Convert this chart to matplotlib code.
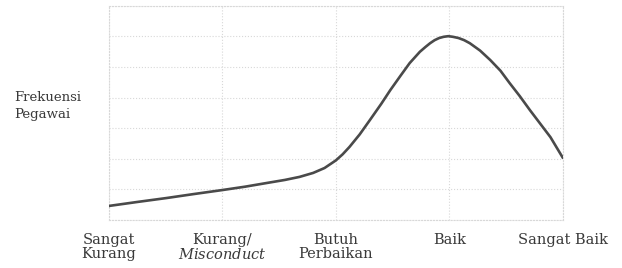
import matplotlib
matplotlib.use("Agg")
import matplotlib.pyplot as plt

plt.rcParams["mathtext.fontset"] = "dejavuserif"

# Category labels on the x axis (one per vertical gridline)
categories = ["Sangat\nKurang", "Kurang/\n$\\it{Misconduct}$", "Butuh\nPerbaikan", "Baik", "Sangat Baik"]

# Curve: position along the category axis, frequency in gridline units
curve_x = [0.00, 0.25, 0.51, 0.75, 1.00, 1.20, 1.39, 1.55, 1.68, 1.80, 1.90, 2.00,
           2.06, 2.12, 2.21, 2.30, 2.40, 2.48, 2.57, 2.65, 2.74, 2.79, 2.83, 2.87,
           2.91, 2.95, 2.99, 3.03, 3.08, 3.13, 3.18, 3.27, 3.36, 3.45, 3.53, 3.62,
           3.71, 3.80, 3.89, 4.00]
curve_y = [0.46, 0.59, 0.72, 0.85, 0.98, 1.09, 1.21, 1.31, 1.41, 1.54, 1.70, 1.95,
           2.15, 2.39, 2.80, 3.27, 3.80, 4.25, 4.72, 5.13, 5.50, 5.66, 5.78, 5.88,
           5.95, 5.99, 6.01, 5.99, 5.95, 5.88, 5.78, 5.54, 5.23, 4.88, 4.48, 4.05,
           3.59, 3.15, 2.71, 2.03]

TEXT = "#3a3a3a"

fig = plt.figure(figsize=(6.22, 2.68), dpi=100)
ax = fig.add_axes([0.175, 0.179, 0.730, 0.799])

ax.plot(curve_x, curve_y, "-", color="#4a4a4a", linewidth=1.9,
        solid_capstyle="round", solid_joinstyle="round", zorder=5)

ax.set_xlim(0, 4)
ax.set_ylim(0, 7)
ax.set_xticks(range(len(categories)))
ax.set_xticklabels(categories, fontsize=10.5, family="DejaVu Serif", color=TEXT, linespacing=1.05)
ax.set_yticks(range(0, 8))
ax.set_yticklabels([])
ax.tick_params(axis="both", length=0)
ax.tick_params(axis="x", pad=9)

ax.grid(True, color="#d8d8d8", linestyle=":", linewidth=0.8)
for side in ax.spines.values():
    side.set_color("#d8d8d8")
    side.set_linestyle(":")
    side.set_linewidth(0.8)

fig.text(14 / 622, 1 - 106 / 268, "Frekuensi\nPegawai", ha="left", va="center",
         fontsize=9.5, family="DejaVu Serif", color=TEXT, linespacing=1.4)

fig.savefig("out.png", dpi=100)
plt.close()
